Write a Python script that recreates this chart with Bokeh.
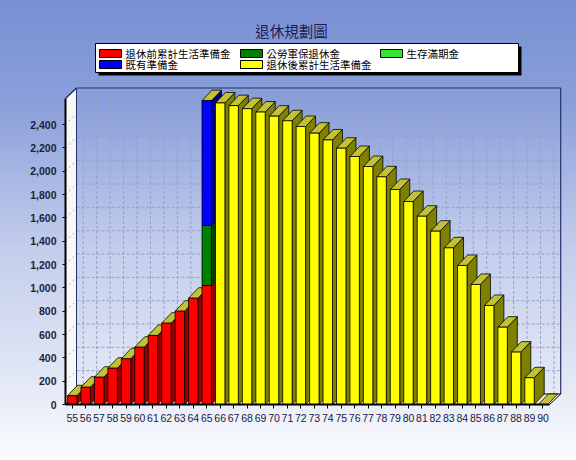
import math
from bokeh.plotting import figure
from bokeh.models import Range1d, FixedTicker, NumeralTickFormatter, Label, ColumnDataSource
from bokeh.core.properties import value
from bokeh.embed import file_html
from bokeh.resources import INLINE

# ---------------- data ----------------
ages = list(range(55, 91))
pre_ret = [75, 148, 234, 311, 392, 491, 592, 697, 800, 911, 1020] + [0] * 25      # 退休前累計生活準備金
pension = [0] * 10 + [515] + [0] * 25                                              # 公勞軍保退休金
maturity = [0] * 36                                                                # 生存滿期金
existing = [0] * 10 + [1070] + [0] * 25                                            # 既有準備金
post_ret = [0] * 11 + [2585, 2562, 2536, 2507, 2472, 2432, 2383, 2326, 2268, 2197,
                       2126, 2040, 1952, 1843, 1740, 1614, 1486, 1343, 1192, 1029,
                       849, 663, 449, 229, 0]                                      # 退休後累計生活準備金
y_ticks = list(range(0, 2401, 200))

names = ["退休前累計生活準備金", "公勞軍保退休金", "生存滿期金", "既有準備金", "退休後累計生活準備金"]
values = [pre_ret, pension, maturity, existing, post_ret]
front_colors = ["#ff0000", "#008000", "#33e633", "#0000ff", "#ffff00"]
side_colors = ["#9a0000", "#004000", "#1a731a", "#000080", "#808000"]
TOP_COLOR = "#c2c232"

title_text = "退休規劃圖"
x_title = "年齡(歲)"
y_title = "金額(萬元)"

# ---------------- geometry (pixels -> data) ----------------
W, H = 576, 460
FL, FR, FT, FB = 65, 566, 0, 404
PXC = 13.45            # px per category
PYV = 23.33 / 200.0    # px per value unit


def X(px):
    return -0.5 + (px - FL) / PXC


def Y(py):
    return (FB - py) / PYV


N = len(ages)
FRONT_TOP = Y(98)
WDX, WDY = 11 / PXC, 10.5 / PYV   # wall depth
BDX, BDY = 10 / PXC, 10.5 / PYV   # bar depth
HW = 0.35

p = figure(width=W, height=H, x_range=Range1d(-0.5, X(FR)), y_range=Range1d(0, Y(FT)),
           output_backend="svg", toolbar_location=None, title=None,
           min_border_left=FL, min_border_right=W - FR, min_border_top=FT, min_border_bottom=H - FB,
           background_fill_color=None, border_fill_color=None, outline_line_color=None)
p.styles = {"background-image": "linear-gradient(180deg, #7891d4 0%, #8a9fda 22%, #c3cdec 54%, #e3e8f5 83%, #fbfcfe 100%)"}
p.grid.visible = False

# axes
xa = p.xaxis[0]
xa.ticker = FixedTicker(ticks=list(range(N)))
xa.major_label_overrides = {i: str(a) for i, a in enumerate(ages)}
xa.bounds = (-0.5, N - 0.5)
xa.axis_line_color = "black"
xa.axis_line_width = 2
xa.major_tick_out = 4
xa.major_tick_in = 0
xa.minor_tick_line_color = None
xa.major_tick_line_color = "black"
xa.major_label_standoff = 5
xa.major_label_text_font = "Liberation Sans"
xa.major_label_text_font_size = "10.5px"
xa.major_label_text_color = "#1a1a40"

ya = p.yaxis[0]
ya.ticker = FixedTicker(ticks=y_ticks)
ya.formatter = NumeralTickFormatter(format="0,0")
ya.bounds = (0, FRONT_TOP)
ya.axis_line_color = "black"
ya.axis_line_width = 2
ya.major_tick_out = 3
ya.major_tick_in = 0
ya.minor_tick_line_color = None
ya.major_label_standoff = 6
ya.major_label_text_font = "Liberation Sans"
ya.major_label_text_font_style = "bold"
ya.major_label_text_font_size = "10.5px"
ya.major_label_text_color = "#1a1f3a"

# back wall grid
GRID = "#97a1c6"
bx0, bx1 = -0.5 + WDX, N - 0.5 + WDX
gxs = [[bx0, bx1] for v in y_ticks[1:]]
gys = [[v + WDY, v + WDY] for v in y_ticks[1:]]
p.multi_line(gxs, gys, line_color=GRID, line_width=1, line_dash="3 2")
vxs = [[i + WDX, i + WDX] for i in range(N)]
vys = [[WDY, FRONT_TOP + WDY] for i in range(N)]
p.multi_line(vxs, vys, line_color=GRID, line_width=1, line_dash="3 2")
# back wall border
p.line([bx0, bx1, bx1], [FRONT_TOP + WDY, FRONT_TOP + WDY, WDY], line_color="#26306a", line_width=1.2)

# left wall
p.patch([-0.5, -0.5, bx0, bx0], [0, FRONT_TOP, FRONT_TOP + WDY, WDY],
        fill_color="#f8f8f8", line_color=None)
p.multi_line([[-0.5, bx0] for v in y_ticks[1:]], [[v, v + WDY] for v in y_ticks[1:]],
             line_color="#a8a8a8", line_width=1, line_dash="2 3")
p.line([-0.5, bx0], [FRONT_TOP, FRONT_TOP + WDY], line_color="#1a2050", line_width=1.2)
p.line([bx0, bx0], [WDY, FRONT_TOP + WDY], line_color="#26306a", line_width=1)

# floor
p.patch([-0.5, N - 0.5, bx1, bx0], [0, 0, WDY, WDY], fill_color="#f4f4f4",
        line_color="black", line_width=1)

# bars: side and top faces (drawn left to right)
xs, ys, fc = [], [], []
for i in range(N):
    base = 0
    for vals, dark in zip(values, side_colors):
        v = vals[i]
        if v > 0:
            xs.append([i + HW, i + HW + BDX, i + HW + BDX, i + HW])
            ys.append([base, base + BDY, base + v + BDY, base + v])
            fc.append(dark)
            base += v
    xs.append([i - HW, i + HW, i + HW + BDX, i - HW + BDX])
    ys.append([base, base, base + BDY, base + BDY])
    fc.append(TOP_COLOR)
p.patches(xs, ys, fill_color=fc, line_color="black", line_width=0.8)

# bars: front faces (stacked)
bottom = [0] * N
for vals, col in zip(values, front_colors):
    idx = [i for i in range(N) if vals[i] > 0]
    src = ColumnDataSource(dict(x=idx, bottom=[bottom[i] for i in idx],
                                top=[bottom[i] + vals[i] for i in idx]))
    p.vbar(x="x", bottom="bottom", top="top", width=2 * HW, source=src,
           fill_color=col, line_color="black", line_width=0.8)
    bottom = [b + v for b, v in zip(bottom, vals)]

# title
p.text(x=[X(291)], y=[Y(30)], text=[title_text], text_align="center", text_baseline="middle",
       text_font=value("Noto Sans CJK TC"), text_font_size=value("14.5px"), text_color="#1c1c50")

# legend (box with shadow)
p.quad(left=[X(98)], right=[X(521)], top=[Y(46)], bottom=[Y(75)], fill_color="black", line_color=None)
p.quad(left=[X(95)], right=[X(518)], top=[Y(43)], bottom=[Y(72)], fill_color="white",
       line_color="black", line_width=1)
col_px = [99, 240, 380]
row_py = [53, 64]
sl, sr, sb, st, tx, ty = [], [], [], [], [], []
for k in range(len(names)):
    r, c = divmod(k, 3)
    sl.append(X(col_px[c])); sr.append(X(col_px[c] + 22))
    st.append(Y(row_py[r] - 4)); sb.append(Y(row_py[r] + 4))
    tx.append(X(col_px[c] + 26)); ty.append(Y(row_py[r]))
p.quad(left=sl, right=sr, top=st, bottom=sb, fill_color=front_colors, line_color="black", line_width=1)
p.text(x=tx, y=ty, text=names, text_align="left", text_baseline="middle",
       text_font=value("Noto Sans CJK TC"), text_font_size=value("10.5px"), text_color="black")

# axis titles
p.add_layout(Label(x=X(291), y=Y(440), text=x_title, text_align="center", text_baseline="middle",
                   text_font="Noto Sans CJK TC", text_font_size="10.5px", text_color="#202040"))
p.add_layout(Label(x=X(24), y=Y(252), text=y_title, angle=math.pi / 2, text_align="center",
                   text_baseline="middle", text_font="Noto Sans CJK TC", text_font_size="11px",
                   text_color="#404060"))

open("out.html", "w").write(file_html(p, INLINE))
